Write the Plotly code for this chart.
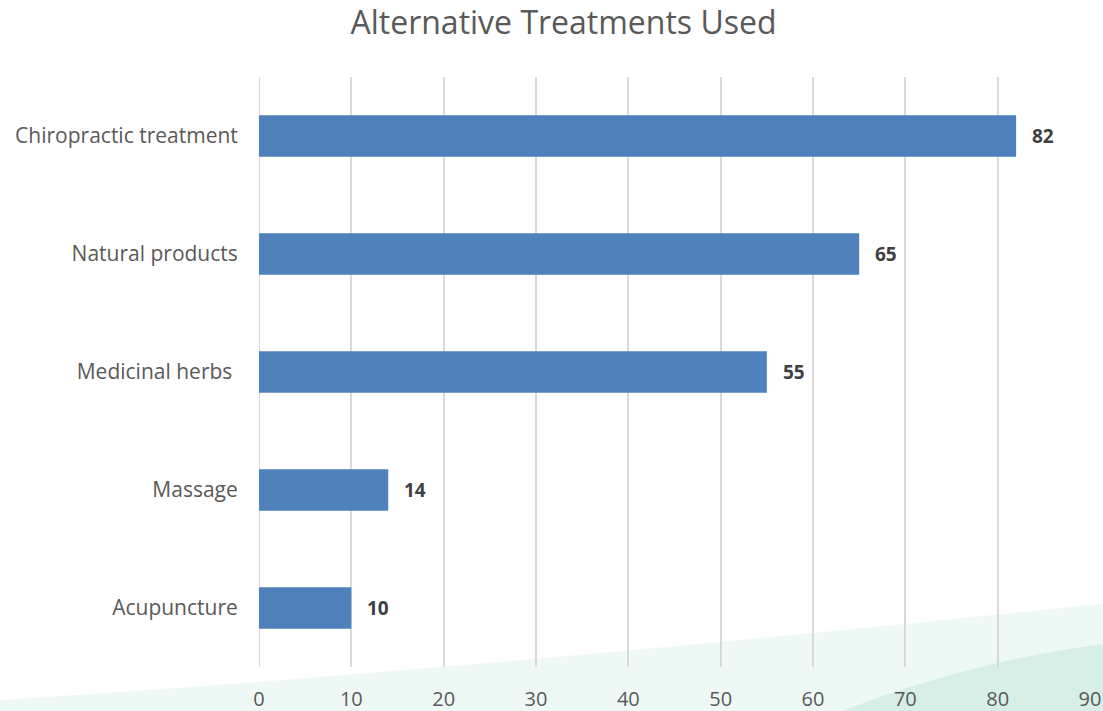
import plotly.graph_objects as go

categories = ["Acupuncture", "Massage", "Medicinal herbs ", "Natural products", "Chiropractic treatment"]
values = [10, 14, 55, 65, 82]
x_ticks = [0, 10, 20, 30, 40, 50, 60, 70, 80, 90]

W, H = 1103, 711
PL, PR, PT, PB = 259, 1090, 77, 667          # plot area in page pixels
L, R, T, B = PL, W - PR, PT, H - PB

fig = go.Figure()
fig.add_trace(go.Bar(
    y=categories, x=values, orientation="h",
    marker=dict(color="#4f81bd", line=dict(width=0)),
    width=0.35,
    hoverinfo="x+y",
))

for c, v in zip(categories, values):
    fig.add_annotation(x=v, y=c, text=f"<b>{v}</b>", showarrow=False,
                       xanchor="left", yanchor="middle", xshift=14,
                       font=dict(family="Open Sans", size=19, color="#404040"))

# decorative background waves, page pixel -> plot-paper coords
def px(x, y):
    return f"{(x - PL) / (PR - PL):.4f},{(PB - y) / (PB - PT):.4f}"

wave1 = ("M " + px(0, 720) + " L " + px(0, 700) + " Q " + px(450, 672) + " " + px(1110, 603)
         + " L " + px(1110, 720) + " Z")
wave2 = ("M " + px(820, 720) + " Q " + px(960, 662) + " " + px(1110, 643)
         + " L " + px(1110, 720) + " Z")

fig.update_layout(
    width=W, height=H,
    margin=dict(l=L, r=R, t=T, b=B, autoexpand=False),
    paper_bgcolor="white", plot_bgcolor="rgba(0,0,0,0)",
    title=dict(text="Alternative Treatments Used", x=563.5 / W, xanchor="center",
               y=1 - 23 / H, yanchor="middle",
               font=dict(family="Open Sans", size=32, color="#595959")),
    font=dict(family="Open Sans", color="#595959"),
    showlegend=False,
    shapes=[
        dict(type="path", xref="paper", yref="paper", path=wave1,
             fillcolor="rgba(205,238,228,0.35)", line=dict(width=0), layer="below"),
        dict(type="path", xref="paper", yref="paper", path=wave2,
             fillcolor="rgba(180,225,210,0.4)", line=dict(width=0), layer="below"),
    ],
)
fig.update_xaxes(
    range=[0, 90], tickvals=x_ticks, ticktext=[str(t) for t in x_ticks],
    showgrid=True, gridcolor="#d9d9d9", gridwidth=2,
    zeroline=False, showline=False, automargin=False,
    ticks="outside", ticklen=14, tickcolor="rgba(0,0,0,0)",
    tickfont=dict(family="Open Sans", size=20, color="#595959"),
)
fig.update_yaxes(
    showgrid=False, zeroline=False, showline=False, automargin=False,
    ticks="outside", ticklen=16, tickcolor="rgba(0,0,0,0)",
    tickfont=dict(family="Open Sans", size=21, color="#595959"),
)
fig.add_shape(type="line", xref="x", yref="paper", x0=0, x1=0, y0=0, y1=1,
              line=dict(color="#d9d9d9", width=2), layer="below")

fig.write_html(
    "out.html",
    config={"displayModeBar": False},
    post_script="document.body.style.margin='0';document.body.style.overflow='hidden';",
)
